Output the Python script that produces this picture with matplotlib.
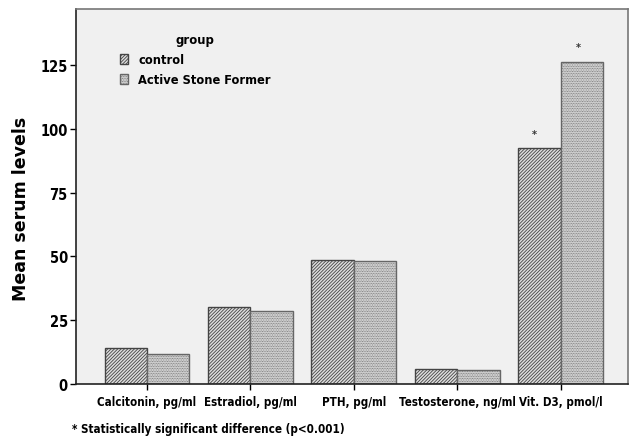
import matplotlib.pyplot as plt
import numpy as np
from matplotlib.patches import Patch

plt.rcParams["font.family"] = ["DejaVu Sans"]
plt.rcParams["hatch.linewidth"] = 0.6

categories = ["Calcitonin, pg/ml", "Estradiol, pg/ml", "PTH, pg/ml",
              "Testosterone, ng/ml", "Vit. D3, pmol/l"]
control = [14.3, 30.3, 48.5, 5.8, 92.7]
stone_former = [11.7, 28.6, 48.3, 5.3, 126.3]
significant = [False, False, False, False, True]
yticks = [0, 25, 50, 75, 100, 125]

fig = plt.figure(figsize=(6.29, 4.39), dpi=100)
ax = fig.add_axes([0.121, 0.123, 0.877, 0.854])
ax.set_facecolor("#f0f0f0")

x = np.arange(len(categories))
w = 0.41
edge = "#444444"
hatch_c = "//////////"
hatch_a = ".........."
ax.bar(x - w / 2, control, w, facecolor="#dedede", edgecolor=edge,
       hatch=hatch_c, linewidth=1.0)
ax.bar(x + w / 2, stone_former, w, facecolor="#e6e6e6", edgecolor="#666666",
       hatch=hatch_a, linewidth=1.0)

for i, sig in enumerate(significant):
    if sig:
        ax.text(x[i] - w / 2 - 0.05, control[i] + 5.5, "*", ha="center",
                va="center", fontsize=7, color="#333333", fontweight="bold")
        ax.text(x[i] + w / 2 - 0.03, stone_former[i] + 6, "*", ha="center",
                va="center", fontsize=7, color="#333333", fontweight="bold")

ax.set_xlim(-0.686, len(categories) - 0.35)
ax.set_ylim(0, 147)
ax.set_yticks(yticks)
ax.set_yticklabels([str(t) for t in yticks], fontsize=10.5, fontweight="bold",
                   fontstretch="condensed")
ax.set_xticks(x)
ax.set_xticklabels(categories, fontsize=8.3, fontweight="bold",
                   fontstretch="condensed")
ax.tick_params(axis="x", length=4, width=1, pad=4)
ax.tick_params(axis="y", length=4, width=1, pad=2)
ax.set_ylabel("Mean serum levels", fontsize=12.5, fontweight="bold")
ax.yaxis.set_label_coords(-0.084, 0.47)

for side in ["left", "bottom"]:
    ax.spines[side].set_color("#222222")
    ax.spines[side].set_linewidth(1.2)
for side in ["top", "right"]:
    ax.spines[side].set_color("#777777")
    ax.spines[side].set_linewidth(1.2)

handles = [Patch(facecolor="#dedede", edgecolor=edge, hatch=hatch_c),
           Patch(facecolor="#e6e6e6", edgecolor="#666666", hatch=hatch_a)]
leg = ax.legend(handles, ["control", "Active Stone Former"], title="group",
                loc="upper left", bbox_to_anchor=(0.19, 0.922),
                bbox_transform=fig.transFigure, borderaxespad=0, borderpad=0,
                frameon=False, handlelength=0.65, handleheight=0.8,
                handletextpad=0.8, labelspacing=0.55,
                prop={"size": 9.2, "weight": "bold", "stretch": "condensed"})
leg.get_title().set_fontweight("bold")
leg.get_title().set_fontstretch("condensed")
leg.get_title().set_fontsize(9.4)

fig.text(0.114, 0.021, "* Statistically significant difference (p<0.001)",
         fontsize=8.4, fontweight="bold", fontstretch="condensed", va="center")

fig.savefig("out.png", dpi=100)
